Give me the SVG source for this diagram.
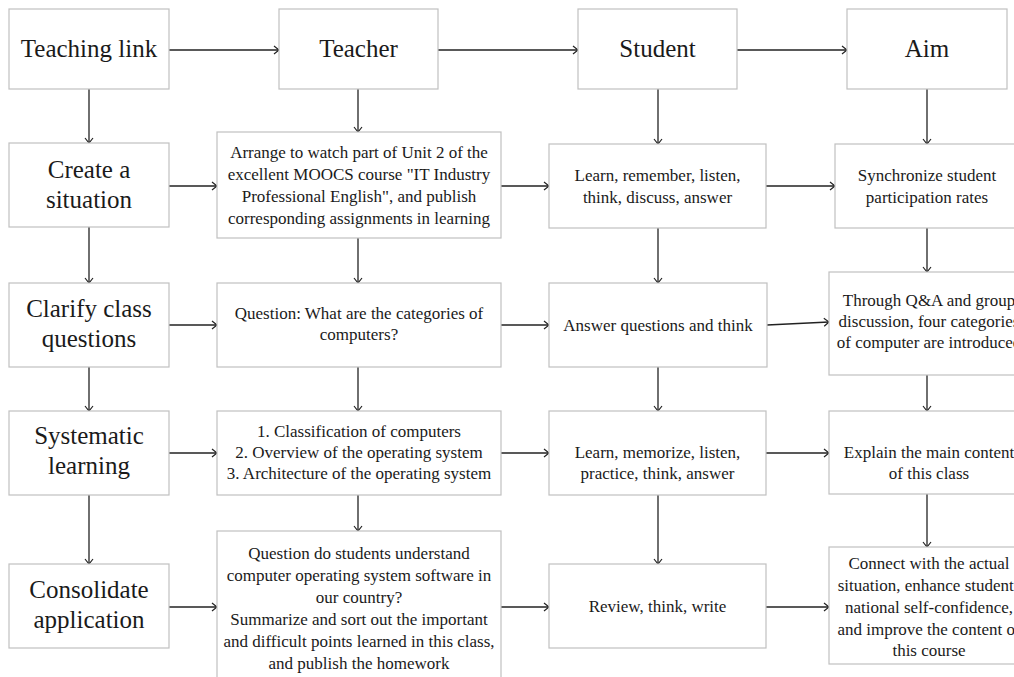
<svg xmlns="http://www.w3.org/2000/svg" width="1014" height="677" viewBox="0 0 1014 677">
<defs>
<marker id="ah" markerWidth="10" markerHeight="10" refX="8" refY="5" orient="auto" markerUnits="userSpaceOnUse">
<path d="M3,1 L8,5 L3,9" fill="none" stroke="#222" stroke-width="1.2"/>
</marker>
<style>
.box{fill:#fff;stroke:#c0c0c0;stroke-width:1.2}
.big{font-family:"Liberation Serif","Times New Roman",serif;font-size:25px;fill:#1a1a1a;text-anchor:middle}
.sm{font-family:"Liberation Serif","Times New Roman",serif;font-size:17px;fill:#1a1a1a;text-anchor:middle}
.con line{stroke:#222;stroke-width:1.3;marker-end:url(#ah)}
</style>
</defs>
<rect width="1014" height="677" fill="#fff"/>
<g class="con">
<line x1="169" y1="50" x2="279" y2="50"/>
<line x1="438" y1="50" x2="578" y2="50"/>
<line x1="737" y1="50" x2="847" y2="50"/>
<line x1="89" y1="89" x2="89" y2="143"/>
<line x1="89" y1="227" x2="89" y2="283"/>
<line x1="89" y1="367" x2="89" y2="411"/>
<line x1="89" y1="495" x2="89" y2="564"/>
<line x1="358" y1="89" x2="358" y2="132"/>
<line x1="358" y1="238" x2="358" y2="283"/>
<line x1="358" y1="367" x2="358" y2="411"/>
<line x1="358" y1="495" x2="358" y2="531"/>
<line x1="658" y1="89" x2="658" y2="144"/>
<line x1="658" y1="228" x2="658" y2="283"/>
<line x1="658" y1="367" x2="658" y2="411"/>
<line x1="658" y1="495" x2="658" y2="564"/>
<line x1="927" y1="89" x2="927" y2="144"/>
<line x1="927" y1="228" x2="927" y2="272"/>
<line x1="927" y1="375" x2="927" y2="411"/>
<line x1="927" y1="494" x2="927" y2="547"/>
<line x1="169" y1="186" x2="217" y2="186"/>
<line x1="501" y1="186" x2="549" y2="186"/>
<line x1="766" y1="186" x2="835" y2="186"/>
<line x1="169" y1="325" x2="217" y2="325"/>
<line x1="501" y1="325" x2="549" y2="325"/>
<line x1="767" y1="325" x2="829" y2="322"/>
<line x1="169" y1="453" x2="217" y2="453"/>
<line x1="501" y1="453" x2="549" y2="453"/>
<line x1="766" y1="453" x2="829" y2="453"/>
<line x1="169" y1="607" x2="217" y2="607"/>
<line x1="501" y1="607" x2="549" y2="607"/>
<line x1="766" y1="607" x2="829" y2="607"/>
</g>
<g id="teaching-link"><rect class="box" x="9" y="9" width="160" height="80"/><text class="big" x="89" y="57">Teaching link</text></g>
<g id="teacher"><rect class="box" x="279" y="9" width="159" height="80"/><text class="big" x="358.5" y="57">Teacher</text></g>
<g id="student"><rect class="box" x="578" y="9" width="159" height="80"/><text class="big" x="657.5" y="57">Student</text></g>
<g id="aim"><rect class="box" x="847" y="9" width="160" height="80"/><text class="big" x="927" y="57">Aim</text></g>

<g id="create-situation"><rect class="box" x="9" y="143" width="160" height="84"/><text class="big" x="89" y="178">Create a</text><text class="big" x="89" y="208">situation</text></g>
<g id="teacher-2"><rect class="box" x="217" y="132" width="284" height="106"/>
<text class="sm" x="359" y="158">Arrange to watch part of Unit 2 of the</text>
<text class="sm" x="359" y="180">excellent MOOCS course "IT Industry</text>
<text class="sm" x="359" y="202">Professional English", and publish</text>
<text class="sm" x="359" y="224">corresponding assignments in learning</text></g>
<g id="student-2"><rect class="box" x="549" y="144" width="217" height="84"/>
<text class="sm" x="657.5" y="180.5">Learn, remember, listen,</text>
<text class="sm" x="657.5" y="202.5">think, discuss, answer</text></g>
<g id="aim-2"><rect class="box" x="835" y="144" width="184" height="84"/>
<text class="sm" x="927" y="180.5">Synchronize student</text>
<text class="sm" x="927" y="202.5">participation rates</text></g>

<g id="clarify"><rect class="box" x="9" y="283" width="160" height="84"/><text class="big" x="89" y="317">Clarify class</text><text class="big" x="89" y="347">questions</text></g>
<g id="teacher-3"><rect class="box" x="217" y="283" width="284" height="84"/>
<text class="sm" x="359" y="318.5">Question: What are the categories of</text>
<text class="sm" x="359" y="339.5">computers?</text></g>
<g id="student-3"><rect class="box" x="549" y="283" width="218" height="84"/>
<text class="sm" x="658" y="330.5">Answer questions and think</text></g>
<g id="aim-3"><rect class="box" x="829" y="272" width="200" height="103"/>
<text class="sm" x="929" y="306">Through Q&amp;A and group</text>
<text class="sm" x="929" y="327">discussion, four categories</text>
<text class="sm" x="929" y="348">of computer are introduced</text></g>

<g id="systematic"><rect class="box" x="9" y="411" width="160" height="84"/><text class="big" x="89" y="444">Systematic</text><text class="big" x="89" y="474">learning</text></g>
<g id="teacher-4"><rect class="box" x="217" y="411" width="284" height="84"/>
<text class="sm" x="359" y="437">1. Classification of computers</text>
<text class="sm" x="359" y="458">2. Overview of the operating system</text>
<text class="sm" x="359" y="479">3. Architecture of the operating system</text></g>
<g id="student-4"><rect class="box" x="549" y="411" width="217" height="84"/>
<text class="sm" x="657.5" y="457.5">Learn, memorize, listen,</text>
<text class="sm" x="657.5" y="478.5">practice, think, answer</text></g>
<g id="aim-4"><rect class="box" x="829" y="411" width="200" height="83"/>
<text class="sm" x="929" y="457.5">Explain the main content</text>
<text class="sm" x="929" y="478.5">of this class</text></g>

<g id="consolidate"><rect class="box" x="9" y="564" width="160" height="84"/><text class="big" x="89" y="598">Consolidate</text><text class="big" x="89" y="628">application</text></g>
<g id="teacher-5"><rect class="box" x="217" y="531" width="284" height="170"/>
<text class="sm" x="359" y="558.5">Question do students understand</text>
<text class="sm" x="359" y="580.5">computer operating system software in</text>
<text class="sm" x="359" y="602.5">our country?</text>
<text class="sm" x="359" y="624.5">Summarize and sort out the important</text>
<text class="sm" x="359" y="646.5">and difficult points learned in this class,</text>
<text class="sm" x="359" y="668.5">and publish the homework</text></g>
<g id="student-5"><rect class="box" x="549" y="564" width="217" height="84"/>
<text class="sm" x="657.5" y="612">Review, think, write</text></g>
<g id="aim-5"><rect class="box" x="829" y="547" width="200" height="117"/>
<text class="sm" x="929" y="568.5">Connect with the actual</text>
<text class="sm" x="929" y="590.5">situation, enhance students</text>
<text class="sm" x="929" y="612.5">national self-confidence,</text>
<text class="sm" x="929" y="634.5">and improve the content of</text>
<text class="sm" x="929" y="656">this course</text></g>
</svg>
